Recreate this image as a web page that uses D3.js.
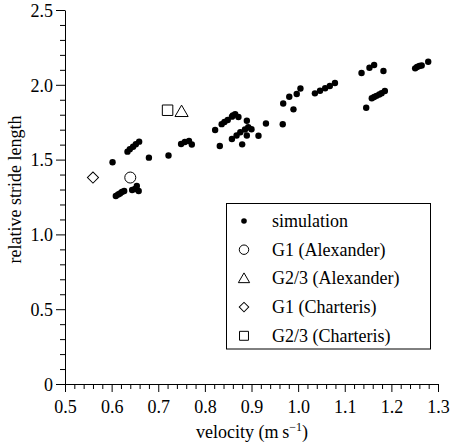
<!DOCTYPE html>
<html>
<head>
<meta charset="utf-8">
<script src="https://cdn.jsdelivr.net/npm/d3@7/dist/d3.min.js"></script>
<style>
  html, body { margin: 0; padding: 0; background: #fff; }
  svg { display: block; }
  text { font-family: "Liberation Serif", "Times New Roman", serif; fill: #000; }
</style>
</head>
<body>
<svg id="chart" width="450" height="444"></svg>
<script>
// ---- data ----
const simVelocity = [
  0.609, 0.614, 0.618, 0.622, 0.627,
  0.644, 0.650, 0.654, 0.658,
  0.602,
  0.634, 0.639, 0.646, 0.652, 0.659,
  0.680, 0.722,
  0.749, 0.757, 0.766, 0.772,
  0.822, 0.836, 0.842, 0.849, 0.858, 0.860, 0.865, 0.872, 0.890,
  0.832, 0.858, 0.868, 0.876, 0.886, 0.893, 0.900, 0.890, 0.880, 0.915,
  0.931, 0.967, 0.968, 0.981, 0.990, 0.997, 1.005,
  1.036, 1.047, 1.058, 1.068, 1.079,
  1.136, 1.153, 1.163, 1.183,
  1.146, 1.158, 1.163, 1.168, 1.174, 1.179, 1.186,
  1.251, 1.255, 1.260, 1.265, 1.279
];
const simLength = [
  1.257, 1.267, 1.273, 1.283, 1.290,
  1.297, 1.303, 1.324, 1.290,
  1.482,
  1.553, 1.570, 1.586, 1.603, 1.620,
  1.513, 1.527,
  1.604, 1.618, 1.624, 1.601,
  1.698, 1.737, 1.751, 1.765, 1.787, 1.795, 1.803, 1.785, 1.760,
  1.591, 1.638, 1.661, 1.683, 1.701, 1.716, 1.703, 1.661, 1.602, 1.659,
  1.741, 1.736, 1.875, 1.920, 1.836, 1.939, 1.975,
  1.943, 1.960, 1.977, 1.992, 2.012,
  2.079, 2.114, 2.132, 2.092,
  1.847, 1.910, 1.918, 1.926, 1.935, 1.944, 1.959,
  2.110, 2.119, 2.126, 2.129, 2.154
];
const refNames = ["G1 (Alexander)", "G2/3 (Alexander)", "G1 (Charteris)", "G2/3 (Charteris)"];
const refSymbols = ["circle", "triangle", "diamond", "square"];
const refVelocity = [0.64, 0.75, 0.56, 0.72];
const refLength = [1.38, 1.82, 1.38, 1.83];

const xMajorTicks = [0.5, 0.6, 0.7, 0.8, 0.9, 1.0, 1.1, 1.2, 1.3];
const yMajorTicks = [0, 0.5, 1.0, 1.5, 2.0, 2.5];
const xTitle = "velocity (m\u2009s";
const yTitle = "relative stride length";
const legendLabels = ["simulation"].concat(refNames);

// ---- layout ----
const FS = "18px";
const svg = d3.select("#chart");
const x = d3.scaleLinear().domain([0.5, 1.3]).range([65, 438]);
const y = d3.scaleLinear().domain([0, 2.5]).range([384, 10]);

const xMinor = d3.range(0.5, 1.3001, 0.02).filter(v => Math.abs(v * 10 - Math.round(v * 10)) > 1e-6);
const yMinor = d3.range(0, 2.5001, 0.1).filter(v => Math.abs(v * 2 - Math.round(v * 2)) > 1e-6);

const fmt = d => d === 0 ? "0" : d.toFixed(1);

// minor ticks
svg.append("g").attr("transform", `translate(0,${y(0)})`)
  .call(d3.axisBottom(x).tickValues(xMinor).tickSize(5).tickSizeOuter(0).tickFormat(""))
  .call(g => g.select(".domain").remove());
svg.append("g").attr("transform", `translate(${x(0.5)},0)`)
  .call(d3.axisLeft(y).tickValues(yMinor).tickSize(5).tickSizeOuter(0).tickFormat(""))
  .call(g => g.select(".domain").remove());

// major ticks
const gx = svg.append("g").attr("transform", `translate(0,${y(0)})`)
  .call(d3.axisBottom(x).tickValues(xMajorTicks).tickSize(8).tickSizeOuter(0).tickPadding(5).tickFormat(fmt));
const gy = svg.append("g").attr("transform", `translate(${x(0.5)},0)`)
  .call(d3.axisLeft(y).tickValues(yMajorTicks).tickSize(9).tickSizeOuter(0).tickPadding(3).tickFormat(fmt));

svg.selectAll(".tick line, .domain").attr("stroke", "#000").attr("stroke-width", 1);
svg.selectAll(".tick text").style("font-family", "'Liberation Serif', serif").style("font-size", FS).attr("fill", "#000");
gx.selectAll(".tick text").attr("dy", "0.9em");
gy.selectAll(".tick text").attr("dy", "0.35em");

// axis titles
const xt = svg.append("text").attr("x", 252).attr("y", 438).attr("text-anchor", "middle").style("font-size", FS);
xt.append("tspan").text(xTitle);
xt.append("tspan").attr("dy", "-7").style("font-size", "12px").text("\u22121");
xt.append("tspan").attr("dy", "7").text(")");

svg.append("text")
  .attr("transform", `translate(21,${y(1.3)}) rotate(-90)`)
  .attr("text-anchor", "middle")
  .style("font-size", FS)
  .text(yTitle);

// ---- marks ----
const symType = { circle: d3.symbolCircle, triangle: d3.symbolTriangle, diamond: d3.symbolSquare, square: d3.symbolSquare };
const symSize = { circle: 95, triangle: 75, diamond: 62, square: 110 };
const symRot = { circle: 0, triangle: 0, diamond: 45, square: 0 };

svg.append("g").selectAll("circle")
  .data(simVelocity.map((v, i) => [v, simLength[i]]))
  .join("circle")
  .attr("cx", d => x(d[0]))
  .attr("cy", d => y(d[1]))
  .attr("r", 3.2)
  .attr("fill", "#000");

svg.append("g").selectAll("path")
  .data(refSymbols.map((s, i) => ({ s, v: refVelocity[i], l: refLength[i] })))
  .join("path")
  .attr("d", d => d3.symbol(symType[d.s], symSize[d.s])())
  .attr("transform", d => `translate(${x(d.v)},${y(d.l) + (d.s === "triangle" ? 1 : 0)}) rotate(${symRot[d.s]})`)
  .attr("fill", "#fff")
  .attr("stroke", "#000")
  .attr("stroke-width", 1);

// ---- legend ----
const lg = svg.append("g");
lg.append("rect").attr("x", 226.5).attr("y", 203.5).attr("width", 204).attr("height", 145.5)
  .attr("fill", "#fff").attr("stroke", "#000").attr("stroke-width", 1);
const rowY = i => 221 + i * 28.7;
legendLabels.forEach((lab, i) => {
  if (i === 0) {
    lg.append("circle").attr("cx", 244).attr("cy", rowY(0)).attr("r", 2.8).attr("fill", "#000");
  } else {
    const s = refSymbols[i - 1];
    const sz = { circle: 70, triangle: 55, diamond: 45, square: 80 }[s];
    lg.append("path")
      .attr("d", d3.symbol(symType[s], sz)())
      .attr("transform", `translate(244,${rowY(i) + (s === "triangle" ? 1 : 0)}) rotate(${symRot[s]})`)
      .attr("fill", "#fff").attr("stroke", "#000").attr("stroke-width", 1);
  }
  lg.append("text").attr("x", 272).attr("y", rowY(i) + 6).style("font-size", FS).text(lab);
});
</script>
</body>
</html>
